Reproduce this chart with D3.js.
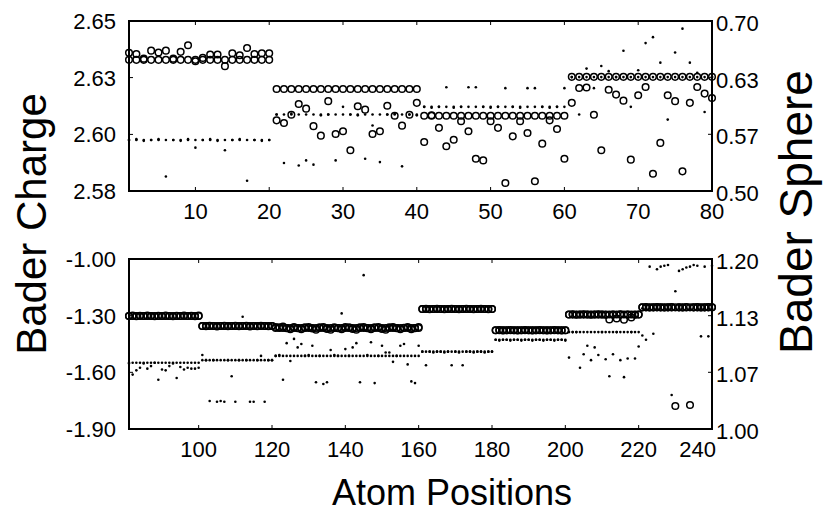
<!DOCTYPE html>
<html>
<head>
<meta charset="utf-8">
<script src="https://cdn.jsdelivr.net/npm/d3@7"></script>
<style>
  body { margin: 0; background: #fff; }
  text { font-family: "Liberation Sans", Arial, sans-serif; fill: #000; }
</style>
</head>
<body>
<div id="container"></div>
<script>
let w = 823;
let h = 514;

// ---- top panel: atoms 1-80 ----
let topBlockStarts = [1, 21, 41, 61];          // 20 atoms per block
let topChargeRef = [2.634, 2.622, 2.611, 2.627];
let topSphereRef = [0.560, 0.590, 0.599, 0.634];
let topCharge = [
  2.6369,2.6364,2.6345,2.6378,2.6370,2.6378,2.6345,2.6373,2.6400,2.6334,
  2.6348,2.6362,2.6362,2.6314,2.6367,2.6359,2.6389,2.6364,2.6367,2.6367,
  2.6091,2.6080,2.6114,2.6158,2.6139,2.6067,2.6028,2.6170,2.6035,2.6046,
  2.5968,2.6149,2.6135,2.6035,2.6046,2.6151,2.6110,2.6069,2.6114,2.6163,
  2.6002,2.6112,2.6060,2.5984,2.6011,2.6087,2.6046,2.5933,2.5926,2.6087,
  2.6060,2.5833,2.6025,2.6087,2.6039,2.5840,2.5995,2.6091,2.6055,2.5933,
  2.6163,2.6224,2.6226,2.6114,2.5968,2.6217,2.6197,2.6172,2.5929,2.6194,
  2.6228,2.5871,2.5998,2.6194,2.6170,2.5881,2.6163,2.6228,2.6201,2.6183
];
let topSphere = [
  0.560,0.561,0.559,0.560,0.561,0.517,0.560,0.559,0.561,0.551,
  0.560,0.561,0.559,0.548,0.560,0.561,0.512,0.560,0.559,0.560,
  0.590,0.533,0.591,0.530,0.536,0.531,0.589,0.590,0.536,0.599,
  0.590,0.589,0.538,0.577,0.534,0.590,0.591,0.529,0.590,0.589,
  0.599,0.598,0.599,0.622,0.598,0.599,0.622,0.622,0.599,0.598,
  0.599,0.621,0.599,0.598,0.621,0.621,0.599,0.598,0.599,0.621,
  0.634,0.590,0.644,0.621,0.647,0.641,0.634,0.665,0.599,0.642,
  0.674,0.681,0.651,0.584,0.663,0.691,0.651,0.639,0.593,0.634
];

// ---- bottom panel: atoms 81-240 ----
let botBlockStarts = [81, 101, 121, 141, 161, 181, 201, 221];
let botChargeRef = [-1.302, -1.355, -1.365, -1.365, -1.265, -1.377, -1.294, -1.256];
let botSphereRef = [1.078, 1.081, 1.086, 1.086, 1.091, 1.105, 1.114, 1.142];
let botCharge = [
  -1.302,-1.300,-1.303,-1.301,-1.302,-1.300,-1.302,-1.303,-1.301,-1.302,
  -1.300,-1.302,-1.303,-1.301,-1.302,-1.300,-1.302,-1.301,-1.303,-1.300,
  -1.355,-1.356,-1.354,-1.355,-1.357,-1.355,-1.354,-1.356,-1.355,-1.354,
  -1.356,-1.355,-1.354,-1.357,-1.355,-1.356,-1.354,-1.355,-1.356,-1.355,
  -1.360,-1.362,-1.358,-1.366,-1.372,-1.360,-1.366,-1.372,-1.362,-1.360,
  -1.368,-1.374,-1.362,-1.360,-1.370,-1.374,-1.362,-1.366,-1.372,-1.360,
  -1.362,-1.370,-1.374,-1.362,-1.360,-1.366,-1.372,-1.362,-1.360,-1.370,
  -1.374,-1.362,-1.360,-1.366,-1.372,-1.364,-1.360,-1.372,-1.366,-1.360,
  -1.265,-1.264,-1.266,-1.265,-1.264,-1.265,-1.266,-1.265,-1.264,-1.265,
  -1.266,-1.265,-1.264,-1.265,-1.266,-1.265,-1.264,-1.265,-1.266,-1.265,
  -1.377,-1.376,-1.378,-1.377,-1.376,-1.377,-1.378,-1.377,-1.376,-1.377,
  -1.378,-1.377,-1.376,-1.377,-1.378,-1.377,-1.376,-1.377,-1.378,-1.377,
  -1.294,-1.293,-1.295,-1.294,-1.293,-1.294,-1.295,-1.294,-1.293,-1.294,
  -1.295,-1.320,-1.294,-1.315,-1.293,-1.322,-1.294,-1.310,-1.295,-1.294,
  -1.256,-1.255,-1.257,-1.256,-1.255,-1.256,-1.257,-1.256,-1.255,-1.778,
  -1.256,-1.257,-1.255,-1.773,-1.256,-1.255,-1.257,-1.256,-1.255,-1.256
];
let botSphere = [
  1.077,1.064,1.069,1.072,1.077,1.071,1.074,1.078,1.058,1.070,
  1.069,1.074,1.077,1.060,1.073,1.070,1.072,1.071,1.071,1.072,
  1.087,1.081,1.033,1.081,1.032,1.033,1.032,1.081,1.062,1.032,
  1.081,1.132,1.081,1.032,1.032,1.081,1.086,1.032,1.081,1.081,
  1.086,1.087,1.058,1.101,1.080,1.106,1.096,1.100,1.086,1.087,
  1.098,1.055,1.086,1.053,1.055,1.093,1.087,1.086,1.136,1.094,
  1.086,1.096,1.101,1.055,1.181,1.087,1.102,1.054,1.086,1.098,
  1.090,1.090,1.079,1.086,1.098,1.100,1.076,1.056,1.054,1.098,
  1.091,1.075,1.091,1.090,1.091,1.091,1.090,1.091,1.075,1.091,
  1.090,1.075,1.091,1.091,1.090,1.091,1.091,1.090,1.091,1.091,
  1.105,1.104,1.105,1.105,1.104,1.105,1.105,1.104,1.105,1.105,
  1.104,1.105,1.105,1.104,1.105,1.105,1.104,1.105,1.105,1.104,
  1.084,1.114,1.114,1.072,1.088,1.098,1.081,1.096,1.087,1.114,
  1.082,1.062,1.088,1.114,1.081,1.061,1.083,1.114,1.083,1.097,
  1.110,1.105,1.191,1.112,1.188,1.191,1.192,1.193,1.040,1.162,
  1.186,1.188,1.190,1.191,1.193,1.192,1.109,1.191,1.109,1.192
];

// tick values
let topXTicks = [10, 20, 30, 40, 50, 60, 70, 80];
let botXTicks = [100, 120, 140, 160, 180, 200, 220, 240];
let topLeftTicks = [2.58, 2.6033, 2.6267, 2.65];
let topRightTicks = [0.50, 0.5667, 0.6333, 0.70];
let botLeftTicks = [-1.90, -1.60, -1.30, -1.00];
let botRightTicks = [1.00, 1.0667, 1.1333, 1.20];

let viz = d3.select("#container").append("svg")
    .attr("width", w)
    .attr("height", h)
;

function blocks(starts, levels){
  let out = [];
  starts.forEach(function(s, k){
    for (let j = 0; j < 20; j++) out.push({atom: s + j, v: levels[k]});
  });
  return out;
}
function perAtom(first, vals){
  return vals.map(function(v, k){ return {atom: first + k, v: v}; });
}
// plain hyphen instead of d3's unicode minus
let fmt = d => d3.format(".2f")(d).replace("\u2212", "-");

function panel(cfg){
  let g = viz.append("g");
  let x = d3.scaleLinear().domain(cfg.xDomain).range([129, 712]);
  let yL = d3.scaleLinear().domain(cfg.leftDomain).range([cfg.y1, cfg.y0]);
  let yR = d3.scaleLinear().domain(cfg.rightDomain).range([cfg.y1, cfg.y0]);

  // inner ticks
  let xt = g.append("g").attr("stroke", "#000").attr("stroke-width", 1);
  cfg.xTicks.forEach(function(t){
    xt.append("line").attr("x1", x(t)).attr("x2", x(t)).attr("y1", cfg.y1).attr("y2", cfg.y1 - 4);
    xt.append("line").attr("x1", x(t)).attr("x2", x(t)).attr("y1", cfg.y0).attr("y2", cfg.y0 + 4);
  });
  cfg.leftTicks.forEach(function(t){
    xt.append("line").attr("x1", 129).attr("x2", 133).attr("y1", yL(t)).attr("y2", yL(t));
  });
  cfg.rightTicks.forEach(function(t){
    xt.append("line").attr("x1", 712).attr("x2", 708).attr("y1", yR(t)).attr("y2", yR(t));
  });

  // circles (Bader charge, left axis)
  g.append("g").selectAll("circle").data(cfg.chargeRef.concat(cfg.charge)).enter()
    .append("circle")
    .attr("cx", d => x(d.atom))
    .attr("cy", d => yL(d.v))
    .attr("r", 3.3)
    .attr("fill", "none")
    .attr("stroke", "#000")
    .attr("stroke-width", 1.5);

  // dots (Bader sphere, right axis)
  g.append("g").selectAll("circle").data(cfg.sphereRef.concat(cfg.sphere)).enter()
    .append("circle")
    .attr("cx", d => x(d.atom))
    .attr("cy", d => yR(d.v))
    .attr("r", 1.3)
    .attr("fill", "#000");

  // frame
  g.append("rect")
    .attr("x", 129).attr("y", cfg.y0)
    .attr("width", 712 - 129).attr("height", cfg.y1 - cfg.y0)
    .attr("fill", "none").attr("stroke", "#000").attr("stroke-width", 2);

  // last x label sits left of the corner so it clears the right labels
  let last = cfg.xTicks[cfg.xTicks.length - 1];
  g.selectAll(".xl").data(cfg.xTicks).enter().append("text")
    .attr("class", "xl")
    .attr("x", d => (d == last && cfg.shiftLast) ? x(d) + 4 : x(d))
    .attr("y", cfg.y1 + 28)
    .attr("text-anchor", d => (d == last && cfg.shiftLast) ? "end" : "middle")
    .attr("font-size", 22)
    .text(d => d);
  g.selectAll(".yl").data(cfg.leftTicks).enter().append("text")
    .attr("class", "yl")
    .attr("x", 116).attr("y", d => yL(d) + 8)
    .attr("text-anchor", "end").attr("font-size", 22)
    .text(d => fmt(d));
  g.selectAll(".yr").data(cfg.rightTicks).enter().append("text")
    .attr("class", "yr")
    .attr("x", 716).attr("y", d => yR(d) + 10)
    .attr("font-size", 22)
    .text(d => fmt(d));
}

panel({
  xDomain: [1, 80], leftDomain: [2.58, 2.65], rightDomain: [0.50, 0.70],
  y0: 21, y1: 191, shiftLast: false,
  xTicks: topXTicks, leftTicks: topLeftTicks, rightTicks: topRightTicks,
  chargeRef: blocks(topBlockStarts, topChargeRef), charge: perAtom(1, topCharge),
  sphereRef: blocks(topBlockStarts, topSphereRef), sphere: perAtom(1, topSphere)
});
panel({
  xDomain: [81, 240], leftDomain: [-1.90, -1.00], rightDomain: [1.00, 1.20],
  y0: 259, y1: 429, shiftLast: true,
  xTicks: botXTicks, leftTicks: botLeftTicks, rightTicks: botRightTicks,
  chargeRef: blocks(botBlockStarts, botChargeRef), charge: perAtom(81, botCharge),
  sphereRef: blocks(botBlockStarts, botSphereRef), sphere: perAtom(81, botSphere)
});

// axis titles
viz.append("text")
  .attr("transform", "translate(46,224) rotate(-90)")
  .attr("text-anchor", "middle").attr("font-size", 42)
  .text("Bader Charge");
viz.append("text")
  .attr("transform", "translate(812,212) rotate(-90)")
  .attr("text-anchor", "middle").attr("font-size", 46)
  .text("Bader Sphere");
viz.append("text")
  .attr("x", 452).attr("y", 505)
  .attr("text-anchor", "middle").attr("font-size", 36)
  .text("Atom Positions");
</script>
</body>
</html>
